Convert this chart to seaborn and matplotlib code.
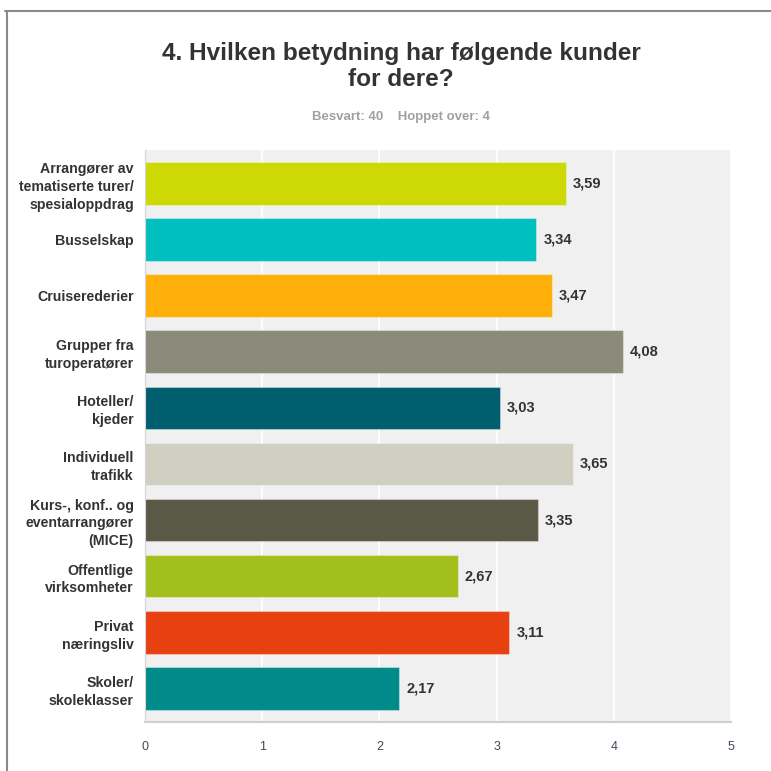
import matplotlib
matplotlib.use("Agg")
import matplotlib.pyplot as plt
import seaborn as sns
import pandas as pd
from matplotlib.lines import Line2D

categories = [
    "Arrangører av\ntematiserte turer/\nspesialoppdrag",
    "Busselskap",
    "Cruiserederier",
    "Grupper fra\nturoperatører",
    "Hoteller/\nkjeder",
    "Individuell\ntrafikk",
    "Kurs-, konf.. og\neventarrangører\n(MICE)",
    "Offentlige\nvirksomheter",
    "Privat\nnæringsliv",
    "Skoler/\nskoleklasser",
]
values = [3.59, 3.34, 3.47, 4.08, 3.03, 3.65, 3.35, 2.67, 3.11, 2.17]
value_labels = ["3,59", "3,34", "3,47", "4,08", "3,03", "3,65", "3,35", "2,67", "3,11", "2,17"]
colors = ["#CDD804", "#00BFBF", "#FFB00A", "#8A8B7A", "#005F6E",
          "#D1CFC2", "#5A5948", "#A2BF1E", "#E74011", "#008A8A"]
x_ticks = [0, 1, 2, 3, 4, 5]

sns.set_style("white")
plt.rcParams["font.family"] = ["Liberation Sans", "DejaVu Sans"]

df = pd.DataFrame({"cat": categories, "val": values})

fig = plt.figure(figsize=(7.71, 7.71), dpi=100)
ax = fig.add_axes([0.188, 0.0636, 0.760, 0.742])
ax.set_facecolor("#f0f0f0")

sns.barplot(data=df, x="val", y="cat", hue="cat", palette=colors, legend=False,
            orient="h", width=0.76, saturation=1, ax=ax,
            edgecolor=(1, 1, 1, 0.35), linewidth=0.8)

ax.set_xlim(0, 5)
ax.set_ylim(9.6, -0.6)
ax.set_xticks(x_ticks)
ax.set_xticklabels([str(t) for t in x_ticks], fontsize=9, color="#3a4a5a")
ax.xaxis.grid(True, color="white", linewidth=1.2)
ax.set_axisbelow(True)
ax.set_xlabel("")
ax.set_ylabel("")
ax.tick_params(axis="x", length=0, pad=14)
ax.tick_params(axis="y", length=0, pad=8)
for lab in ax.get_yticklabels():
    lab.set_fontweight("bold")
    lab.set_fontsize(10.2)
    lab.set_color("#333333")
    lab.set_horizontalalignment("right")
    lab.set_multialignment("right")
    lab.set_linespacing(1.35)

for s in ["top", "right"]:
    ax.spines[s].set_visible(False)
ax.spines["left"].set_color("#d5d5d5")
ax.spines["bottom"].set_color("#d0d0d0")
ax.spines["bottom"].set_linewidth(1.5)

for i, (v, t) in enumerate(zip(values, value_labels)):
    ax.text(v + 0.06, i, t, va="center", ha="left", fontsize=10.5,
            fontweight="bold", color="#333333")

fig.text(0.52, 0.914, "4. Hvilken betydning har følgende kunder\nfor dere?",
         ha="center", va="center", fontsize=17.6, color="#333333",
         fontweight="bold", linespacing=1.2)
fig.text(0.52, 0.848, "Besvart: 40    Hoppet over: 4", ha="center", va="center",
         fontsize=9.5, color="#a0a0a0", fontweight="bold")

fig.add_artist(Line2D([5 / 771, 1.0], [1 - 11 / 771, 1 - 11 / 771],
                      color="#8a8a8a", linewidth=1.5, transform=fig.transFigure))
fig.add_artist(Line2D([7 / 771, 7 / 771], [0, 1 - 11 / 771],
                      color="#8a8a8a", linewidth=1.5, transform=fig.transFigure))

fig.savefig("out.png", dpi=100)
